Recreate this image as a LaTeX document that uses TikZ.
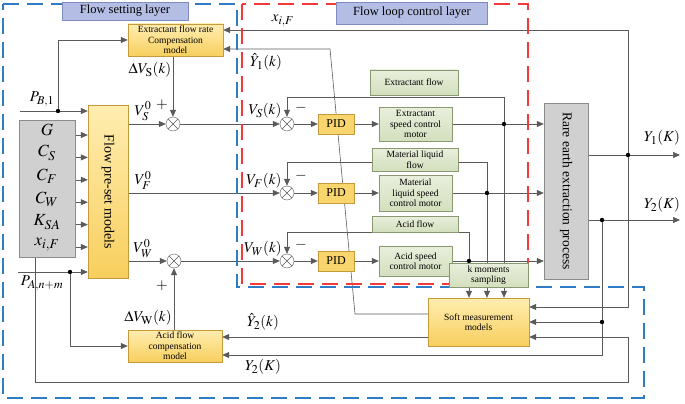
\documentclass[tikz,border=0pt]{standalone}
\usepackage{mathptmx}
\usepackage{fontspec}
\setmainfont{Liberation Serif}
\DeclareMathSizes{15}{15}{12}{10}
\DeclareMathSizes{17}{17}{13.5}{11}
\usetikzlibrary{arrows.meta}
\pgfdeclarelayer{background}
\pgfsetlayers{background,main}

\definecolor{linegray}{HTML}{5A5A5A}
\definecolor{ytop}{HTML}{FFEDB0}
\definecolor{ybot}{HTML}{F8CF5E}
\definecolor{ybord}{HTML}{C49A3A}
\definecolor{gtop}{HTML}{E9EFDC}
\definecolor{gbot}{HTML}{D3DFBE}
\definecolor{gbord}{HTML}{8A9A70}
\definecolor{grfill}{HTML}{D0D0D0}
\definecolor{grbord}{HTML}{8C8C8C}
\definecolor{ttlfill}{HTML}{B4BEE4}
\definecolor{ttlbord}{HTML}{7E8CC0}
\definecolor{fblue}{HTML}{2E7BC6}
\definecolor{fred}{HTML}{F23A3A}

\begin{document}
\begin{tikzpicture}[x=1pt,y=-1pt,
    line/.style={draw=linegray,line width=0.6pt},
    arr/.style={line,-{Triangle[length=7pt,width=6pt]}},
    ybox/.style={draw=ybord,top color=ytop,bottom color=ybot,align=center,inner sep=1pt,
      font=\fontsize{9.5}{10.5}\selectfont},
    gbox/.style={draw=gbord,top color=gtop,bottom color=gbot,align=center,inner sep=1pt,
      font=\fontsize{9.5}{10.5}\selectfont},
    graybox/.style={draw=grbord,fill=grfill,inner sep=1pt},
    pidbox/.style={draw=ybord,fill=ybot!80!ytop,minimum width=36pt,minimum height=20pt,
      inner sep=0pt,font=\fontsize{12}{14}\selectfont},
    titlebox/.style={draw=ttlbord,fill=ttlfill,inner sep=1pt,font=\fontsize{12.5}{14}\selectfont},
    sumj/.style={circle,draw=linegray,fill=white,minimum size=14pt,inner sep=0pt,
      path picture={\draw[linegray] (path picture bounding box.north west) -- (path picture bounding box.south east)
        (path picture bounding box.south west) -- (path picture bounding box.north east);}},
    lab/.style={inner sep=1pt,font=\fontsize{15}{17}\selectfont},
    parlab/.style={inner sep=0pt,font=\fontsize{17}{19}\selectfont},
    layer/.style={line width=1.2pt,dash pattern=on 16pt off 8pt}]
  \useasboundingbox (0,0) rectangle (685,404);

  % layer frames
  \draw[layer,fblue] (3,4) -- (237,4) -- (237,287) -- (644,287) -- (644,398) -- (3,398) -- cycle;
  \draw[layer,fred] (242,4) rectangle (528,284);
  \node[titlebox,minimum width=126pt,minimum height=18pt] (fsl) at (125,11) {Flow setting layer};
  \node[titlebox,minimum width=151pt,minimum height=22pt] (flc) at (412,13) {Flow loop control layer};

  % flow setting layer
  \node[ybox,minimum width=95pt,minimum height=32pt] (escm) at (175.5,40) {Extractant flow rate\\Compensation\\model};
  \node[graybox,minimum width=56pt,minimum height=137pt] (par) at (47,188.5) {};
  \foreach \lab [count=\i] in {G,C_S,C_F,C_W,K_{SA},x_{i,F}}
    \node[parlab] (par\i) at (47,{107+23*\i}) {$\lab$};
  \node[ybox,minimum width=40pt,minimum height=173pt,
    font=\fontsize{14}{16}\selectfont] (fpm) at (108,191.5) {\rotatebox{-90}{Flow pre-set models}};
  \node[sumj] (s1) at (173,124) {};
  \node[sumj] (s2) at (174,261) {};
  \node[ybox,minimum width=94pt,minimum height=32pt] (acomp) at (175,346) {Acid flow\\compensation\\model};

  % flow loops
  \foreach \r/\yy in {S/124,F/193,W/261}
  {
    \node[sumj] (sum\r) at (287,\yy) {};
    \node[pidbox] (pid\r) at (336,\yy) {PID};
  }
  \node[gbox,minimum width=73pt,minimum height=34pt] (motS) at (415.5,124) {Extractant\\speed control\\motor};
  \node[gbox,minimum width=73pt,minimum height=36pt] (motF) at (415.5,193) {Material\\liquid speed\\control motor};
  \node[gbox,minimum width=73pt,minimum height=30pt] (motW) at (415.5,261) {Acid speed\\control motor};
  \node[gbox,minimum width=88pt,minimum height=25pt] (flowS) at (414,82.5) {Extractant flow};
  \node[gbox,minimum width=86pt,minimum height=23pt] (flowF) at (415,159.5) {Material liquid\\flow};
  \node[gbox,minimum width=86pt,minimum height=16pt] (flowW) at (415,224) {Acid flow};
  \node[gbox,minimum width=79pt,minimum height=24pt] (kms) at (488.5,275) {k moments\\sampling};
  \node[ybox,minimum width=101pt,minimum height=48pt] (soft) at (478.5,322) {Soft measurement\\models};
  \node[graybox,minimum width=44pt,minimum height=176pt,font=\fontsize{13.5}{15}\selectfont]
    (rare) at (566,191) {\rotatebox{-90}{Rare earth extraction process}};

  % junctions and free ends
  \coordinate (jS) at (504,124);
  \coordinate (jF) at (487,193);
  \coordinate (jW) at (469,261);
  \coordinate (pb) at (20,111);
  \coordinate (jpb) at (58,111);
  \coordinate (pa) at (18,272);
  \coordinate (jpa) at (70,272);
  \coordinate (y1) at (680,155);
  \coordinate (y2) at (680,220);
  \coordinate (jY1) at (628,155);
  \coordinate (jY2) at (602,220);
  \coordinate (jY2b) at (602,322);
  \coordinate (xb) at (35,382);
  \coordinate (xr) at (628,382);
  \coordinate (yh1a) at (355,314);
  \coordinate (yh1b) at (330,49);

  \begin{pgfonlayer}{background}
    \foreach \i [evaluate=\i as \yy using 135+22.4*\i] in {0,...,5}
      \draw[arr] (par.east |- 0,\yy) -- (fpm.west |- 0,\yy);
    \draw[arr] (pb) -- (pb -| fpm.west);
    \draw[arr] (jpb) |- (escm.west);
    \draw[arr] (pa) -- (pa -| fpm.west);
    \draw[arr] (jpa) |- (acomp.west);
    \draw[arr] (fpm.east |- s1) -- (s1);
    \draw[arr] (fpm.east |- sumF) -- (sumF);
    \draw[arr] (fpm.east |- s2) -- (s2);
    \draw[arr] (s1 |- escm.south) -- (s1);
    \draw[arr] (s2 |- acomp.north) -- (s2);
    \draw[arr] (s1) -- (sumS);
    \draw[arr] (s2) -- (sumW);
    \foreach \r in {S,F,W}
    {
      \draw[arr] (sum\r) -- (pid\r);
      \draw[arr] (pid\r) -- (mot\r);
      \draw[arr] (mot\r) -- (mot\r -| rare.west);
    }
    % flow feedback
    \draw[arr] (jS) |- ([yshift=-2pt]flowS.south) -| (sumS);
    \draw[arr] (jF) |- ([yshift=-3pt]flowF.center) -| (sumF);
    \draw[arr] (jW) |- (flowW.south) -| (sumW);
    \foreach \j in {jS,jF,jW}
      \draw[arr] (\j) -- (\j |- soft.north);
    % outputs and soft measurement
    \draw[arr] (rare.east |- y1) -- (y1);
    \draw[arr] (rare.east |- y2) -- (y2);
    \draw[arr] (jY1) |- ([yshift=10pt]escm.east);
    \draw[arr] (jY1) |- ([yshift=15pt]soft.east);
    \draw[arr] (jY2) |- ([yshift=-9pt]acomp.east);
    \draw[arr] (jY2b) -- (soft.east);
    \draw[arr] (par.south -| xb) -- (xb) -- (xr) |- ([yshift=-15pt]soft.east);
    \draw[arr] ([yshift=8pt]soft.west) -- (yh1a) -- (yh1b) -- ([yshift=-9pt]escm.east);
    \draw[arr] ([yshift=-15pt]soft.west) -- ([yshift=9pt]acomp.east);
  \end{pgfonlayer}
  \foreach \j in {jS,jF,jW,jpb,jpa,jY1,jY2,jY2b}
    \fill[black] (\j) circle (2.2pt);

  % labels
  \node[lab,anchor=south] (lpb) at (42,108) {$P_{B,1}$};
  \node[lab,anchor=north] (lpa) at (42,275) {$P_{A,n+m}$};
  \node[lab,anchor=south] (lvs0) at (143,122) {$V_S^0$};
  \node[lab,anchor=south] (lvf0) at (143,191) {$V_F^0$};
  \node[lab,anchor=south] (lvw0) at (143,259) {$V_W^0$};
  \node[lab] (lp1) at (162,105) {$+$};
  \node[lab] (lp2) at (162,286) {$+$};
  \node[lab] (ldvs) at (150,70) {$\Delta V_{\mathrm{S}}(k)$};
  \node[lab] (ldvw) at (148,318) {$\Delta V_{\mathrm{W}}(k)$};
  \node[lab,anchor=south] (lxif) at (283,28) {$x_{i,F}$};
  \node[lab] (lyh1) at (266,62) {$\hat{Y}_1(k)$};
  \node[lab] (lvs) at (265,111) {$V_S(k)$};
  \node[lab] (lvf) at (264,181) {$V_F(k)$};
  \node[lab] (lvw) at (263,249) {$V_W(k)$};
  \foreach \r/\yy in {S/108,F/176,W/245}
    \node[lab] (lm\r) at (301,\yy) {$-$};
  \node[lab] (ly1) at (662,138) {$Y_1(K)$};
  \node[lab] (ly2) at (662,205) {$Y_2(K)$};
  \node[lab] (lyh2) at (263,322) {$\hat{Y}_2(k)$};
  \node[lab] (ly2b) at (263,367) {$Y_2(K)$};
\end{tikzpicture}
\end{document}
